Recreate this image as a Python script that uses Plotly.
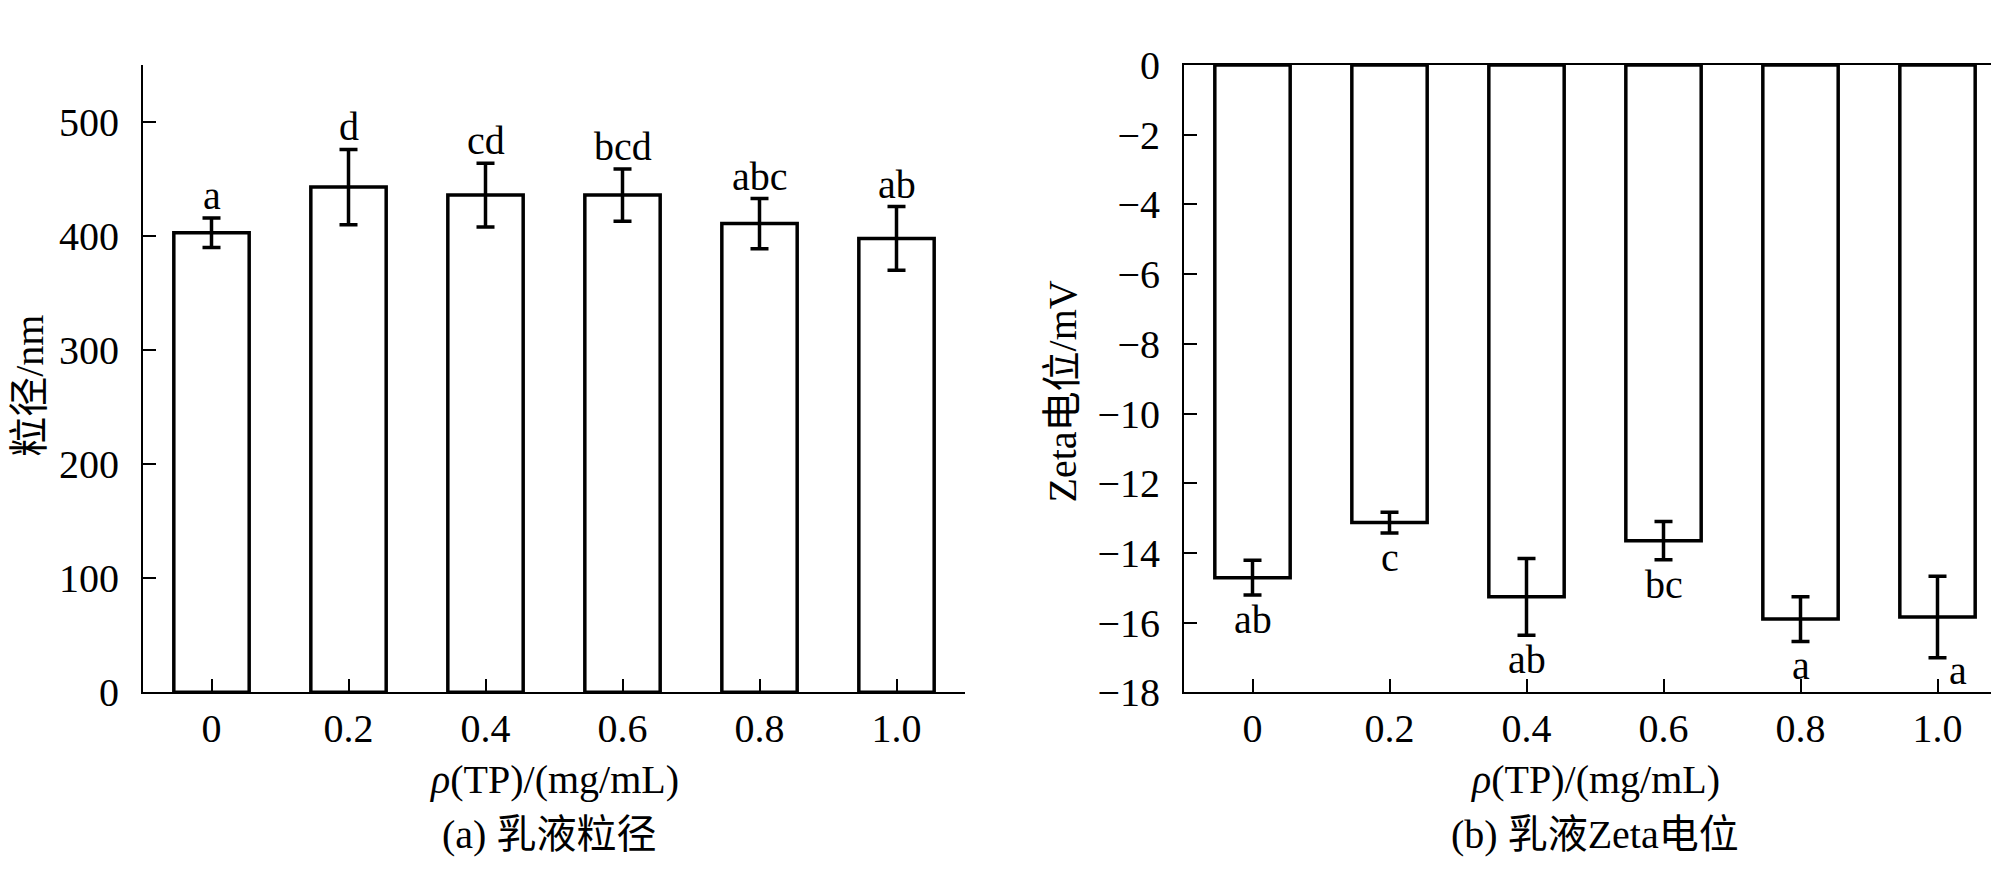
import plotly.graph_objects as go

categories = ["0", "0.2", "0.4", "0.6", "0.8", "1.0"]

size_mean = [403, 443, 436, 436, 411, 398]
size_err = [13, 33, 28, 23, 22, 28]
size_letters = ["a", "d", "cd", "bcd", "abc", "ab"]

zeta_mean = [-14.71, -13.13, -15.26, -13.65, -15.90, -15.84]
zeta_err = [0.50, 0.30, 1.10, 0.55, 0.64, 1.17]
zeta_letters = ["ab", "c", "ab", "bc", "a", "a"]

size_ticks = [0, 100, 200, 300, 400, 500]
zeta_ticks = [0, -2, -4, -6, -8, -10, -12, -14, -16, -18]

W, H = 1999, 879
SERIF = "Liberation Serif, Times New Roman, Noto Sans CJK SC, serif"
FS = 40

fig = go.Figure()

bar_style = dict(marker=dict(color="white", line=dict(color="black", width=3.5)),
                 width=0.55, showlegend=False)
err_style = dict(type="data", thickness=3.5, width=9, color="black")

fig.add_trace(go.Bar(x=categories, y=size_mean, xaxis="x", yaxis="y",
                     error_y=dict(array=size_err, **err_style), **bar_style))
fig.add_trace(go.Bar(x=categories, y=zeta_mean, xaxis="x2", yaxis="y2",
                     error_y=dict(array=zeta_err, **err_style), **bar_style))

ydom = [(H - 698) / H, (H - 37) / H]
axis_common = dict(showline=True, linecolor="black", linewidth=2, ticks="inside",
                   ticklen=13, tickwidth=2, tickcolor="black", showgrid=False,
                   zeroline=False, tickfont=dict(family=SERIF, size=FS, color="black"))

fig.update_layout(
    width=W, height=H, margin=dict(l=0, r=0, t=0, b=0),
    paper_bgcolor="white", plot_bgcolor="white", bargap=0.45,
    xaxis=dict(domain=[135 / W, 957 / W], type="category", range=[-0.5, 5.5],
               anchor="y", ticklabelstandoff=0, **axis_common),
    yaxis=dict(domain=ydom, range=[0, 550], tickvals=size_ticks, anchor="x",
               ticklabelstandoff=14, **axis_common),
    xaxis2=dict(domain=[1176 / W, 1998 / W], type="category", range=[-0.5, 5.5],
                anchor="y2", mirror=True, ticklabelstandoff=0, **axis_common),
    yaxis2=dict(domain=ydom, range=[-18, 0], tickvals=zeta_ticks, anchor="x2",
                tickformat="d", ticklabelstandoff=14, **axis_common),
)

ann = []
for i, (m, e, t) in enumerate(zip(size_mean, size_err, size_letters)):
    ann.append(dict(x=i, y=m + e, xref="x", yref="y", text=t, showarrow=False,
                    xanchor="center", yanchor="bottom", yshift=-2,
                    font=dict(family=SERIF, size=FS, color="black")))
for i, (m, e, t) in enumerate(zip(zeta_mean, zeta_err, zeta_letters)):
    last = i == len(zeta_letters) - 1
    ann.append(dict(x=i, y=m - e, xref="x2", yref="y2", text=t, showarrow=False,
                    xanchor="center", yanchor="top",
                    yshift=(12 if last else 0), xshift=(20 if last else 0),
                    font=dict(family=SERIF, size=FS, color="black")))

txt = dict(showarrow=False, xref="paper", yref="paper", xanchor="center", yanchor="middle",
           font=dict(family=SERIF, size=FS, color="black"))
ann += [
    dict(x=22 / W, y=(H - 375) / H, text="粒径/nm", textangle=-90, **txt),
    dict(x=1054 / W, y=(H - 381) / H, text="Zeta电位/mV", textangle=-90, **txt),
    dict(x=546 / W, y=(H - 790) / H, text="<i>ρ</i>(TP)/(mg/mL)", **txt),
    dict(x=1587 / W, y=(H - 790) / H, text="<i>ρ</i>(TP)/(mg/mL)", **txt),
    dict(x=541 / W, y=(H - 848) / H, text="(a) 乳液粒径", **txt),
    dict(x=1587 / W, y=(H - 848) / H, text="(b) 乳液Zeta电位", **txt),
]
fig.update_layout(annotations=ann)

fig.write_html("out.html")
